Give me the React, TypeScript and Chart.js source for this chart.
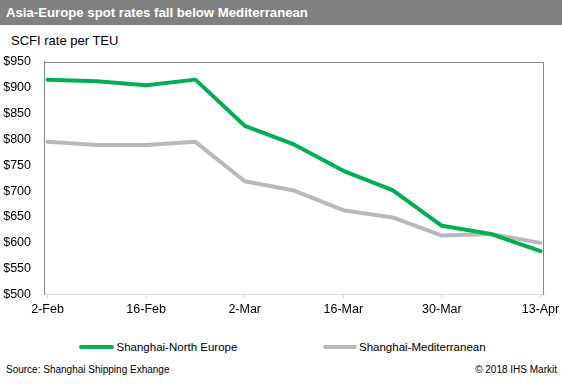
import React, { useEffect, useRef } from "react";
import { Chart, registerables } from "chart.js";

Chart.register(...registerables);

const TITLE = "Asia-Europe spot rates fall below Mediterranean";
const SUBTITLE = "SCFI rate per TEU";
const SOURCE = "Source: Shanghai Shipping Exhange";
const COPYRIGHT = "© 2018 IHS Markit";

// Weekly SCFI dates (2018)
const dates = [
  "2018-02-02", "2018-02-09", "2018-02-16", "2018-02-23", "2018-03-02", "2018-03-09",
  "2018-03-16", "2018-03-23", "2018-03-30", "2018-04-06", "2018-04-13",
];
const northEurope = [915, 912, 904, 915, 826, 790, 739, 702, 633, 617, 584];
const mediterranean = [795, 789, 789, 795, 719, 701, 663, 649, 614, 617, 600];

const tickDates = ["2018-02-02", "2018-02-16", "2018-03-02", "2018-03-16", "2018-03-30", "2018-04-13"];
const tickLabels = ["2-Feb", "16-Feb", "2-Mar", "16-Mar", "30-Mar", "13-Apr"];

const yTicks = [500, 550, 600, 650, 700, 750, 800, 850, 900, 950];

const seriesNames = ["Shanghai-North Europe", "Shanghai-Mediterranean"];
const seriesColors = ["#00b050", "#b9b9bb"];

const FONT = "'Liberation Sans', Arial, Helvetica, sans-serif";

const DAY = 86400000;
const base = Date.parse(dates[0] + "T00:00:00Z");
const dayOf = (d: string) => Math.round((Date.parse(d + "T00:00:00Z") - base) / DAY);

const framePlugin = {
  id: "frame",
  afterDraw(chart: any) {
    const { ctx, chartArea } = chart;
    ctx.save();
    ctx.strokeStyle = "#868686";
    ctx.lineWidth = 1;
    const top = Math.round(chartArea.top) + 0.5;
    const right = Math.round(chartArea.right) - 0.5;
    ctx.beginPath();
    ctx.moveTo(chartArea.left, top);
    ctx.lineTo(right, top);
    ctx.lineTo(right, chartArea.bottom);
    ctx.stroke();
    ctx.restore();
  },
};

export default function App() {
  const canvasRef = useRef<HTMLCanvasElement | null>(null);

  useEffect(() => {
    document.body.style.margin = "0";
    const canvas = canvasRef.current;
    if (!canvas) return;
    const days = dates.map(dayOf);
    const tickDays = tickDates.map(dayOf);
    const chart = new Chart(canvas, {
      type: "line",
      data: {
        datasets: [
          {
            label: seriesNames[0],
            data: days.map((d, i) => ({ x: d, y: northEurope[i] })),
            borderColor: seriesColors[0],
            backgroundColor: seriesColors[0],
            borderWidth: 4,
            pointRadius: 0,
            tension: 0,
            borderCapStyle: "round",
            borderJoinStyle: "round",
          },
          {
            label: seriesNames[1],
            data: days.map((d, i) => ({ x: d, y: mediterranean[i] })),
            borderColor: seriesColors[1],
            backgroundColor: seriesColors[1],
            borderWidth: 4,
            pointRadius: 0,
            tension: 0,
            borderCapStyle: "round",
            borderJoinStyle: "round",
          },
        ],
      },
      options: {
        responsive: false,
        animation: false,
        devicePixelRatio: 1,
        layout: { padding: { left: 0, right: 18, top: 13.5, bottom: 0 } },
        plugins: {
          legend: { display: false },
          tooltip: { enabled: false },
          title: { display: false },
        },
        scales: {
          x: {
            type: "linear",
            min: -0.5,
            max: 70.5,
            afterBuildTicks: (axis: any) => {
              axis.ticks = tickDays.map((v) => ({ value: v }));
            },
            afterFit: (scale: any) => {
              scale.height = 28.3;
              scale.paddingLeft = 0;
              scale.paddingRight = 0;
            },
            grid: {
              drawOnChartArea: false,
              drawTicks: true,
              tickLength: 4,
              color: "#d9d9d9",
            },
            border: { display: true, color: "#d9d9d9", width: 1 },
            ticks: {
              autoSkip: false,
              maxRotation: 0,
              padding: 3,
              color: "#000000",
              font: { family: FONT, size: 12.5 },
              callback: (value: any) => {
                const i = tickDays.indexOf(Number(value));
                return i >= 0 ? tickLabels[i] : "";
              },
            },
          },
          y: {
            type: "linear",
            min: yTicks[0],
            max: yTicks[yTicks.length - 1],
            afterBuildTicks: (axis: any) => {
              axis.ticks = yTicks.map((v) => ({ value: v }));
            },
            afterFit: (scale: any) => {
              scale.width = 44;
              scale.paddingTop = 0;
              scale.paddingBottom = 0;
            },
            grid: { drawOnChartArea: false, drawTicks: false },
            border: { display: true, color: "#868686", width: 1 },
            ticks: {
              padding: 13,
              color: "#000000",
              font: { family: FONT, size: 12.5 },
              callback: (value: any) => "$" + value,
            },
          },
        },
      },
      plugins: [framePlugin],
    } as any);
    return () => chart.destroy();
  }, []);

  const legendText: React.CSSProperties = {
    position: "absolute",
    top: 339,
    fontSize: 11.5,
    lineHeight: "16px",
    color: "#000",
    whiteSpace: "nowrap",
  };
  const legendLine = (color: string, left: number, width: number): React.CSSProperties => ({
    position: "absolute",
    left,
    top: 345,
    width,
    height: 4,
    borderRadius: 2,
    background: color,
  });

  return (
    <div
      style={{
        position: "fixed",
        left: 0,
        top: 0,
        width: 562,
        height: 385,
        background: "#ffffff",
        fontFamily: FONT,
        overflow: "hidden",
      }}
    >
      <div
        style={{
          position: "absolute",
          left: 0,
          top: 0,
          width: 562,
          height: 25,
          background: "#808080",
          color: "#ffffff",
          fontWeight: "bold",
          fontSize: 13.2,
          lineHeight: "25px",
          paddingLeft: 6,
          boxSizing: "border-box",
          whiteSpace: "nowrap",
        }}
      >
        {TITLE}
      </div>
      <div
        style={{
          position: "absolute",
          left: 11,
          top: 32,
          fontSize: 13,
          lineHeight: "18px",
          color: "#000",
          whiteSpace: "nowrap",
        }}
      >
        {SUBTITLE}
      </div>
      <canvas
        ref={canvasRef}
        width={562}
        height={275}
        style={{ position: "absolute", left: 0, top: 48, width: 562, height: 275 }}
      />
      <div style={legendLine(seriesColors[0], 79, 35)} />
      <div style={{ ...legendText, left: 116.5 }}>{seriesNames[0]}</div>
      <div style={legendLine(seriesColors[1], 323, 34)} />
      <div style={{ ...legendText, left: 359 }}>{seriesNames[1]}</div>
      <div
        style={{
          position: "absolute",
          left: 6,
          top: 363,
          fontSize: 10,
          lineHeight: "14px",
          color: "#000",
          whiteSpace: "nowrap",
        }}
      >
        {SOURCE}
      </div>
      <div
        style={{
          position: "absolute",
          right: 5,
          top: 363,
          fontSize: 10,
          lineHeight: "14px",
          color: "#000",
          whiteSpace: "nowrap",
        }}
      >
        {COPYRIGHT}
      </div>
    </div>
  );
}
